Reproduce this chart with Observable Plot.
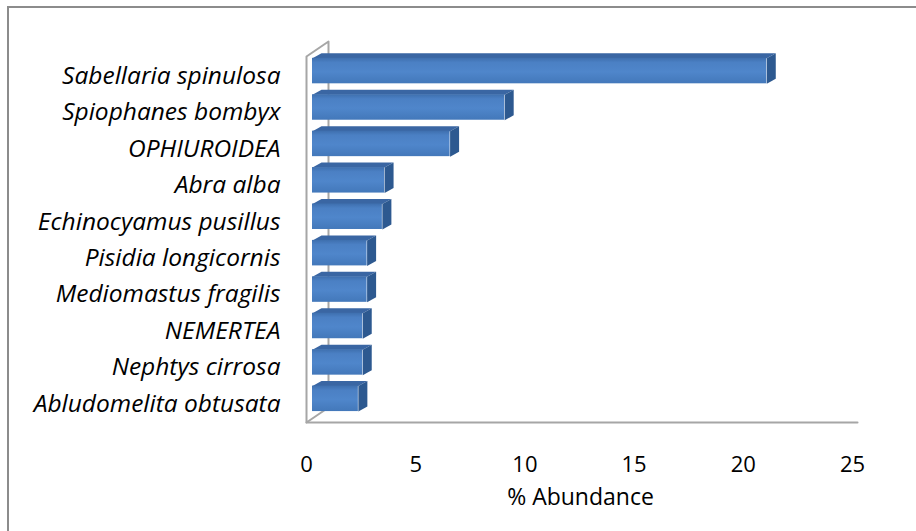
<!DOCTYPE html>
<html>
<head>
<meta charset="utf-8">
<script src="https://cdn.jsdelivr.net/npm/d3@7"></script>
<script src="https://cdn.jsdelivr.net/npm/@observablehq/plot@0.6"></script>
<style>
  body { margin: 0; background: #fff; }
  #chart { position: relative; width: 916px; height: 531px; overflow: hidden; }
  #chart svg { position: absolute; left: 0; top: 0; }
  #frame { position: absolute; left: 7px; top: 6px; right: -4px; bottom: -4px;
           border-top: 2px solid #8c8c8c; border-left: 2px solid #8c8c8c; pointer-events: none; }
</style>
</head>
<body>
<div id="chart"><div id="frame"></div></div>
<script>
// Species, top to bottom
const species = [
  "Sabellaria spinulosa",
  "Spiophanes bombyx",
  "OPHIUROIDEA",
  "Abra alba",
  "Echinocyamus pusillus",
  "Pisidia longicornis",
  "Mediomastus fragilis",
  "NEMERTEA",
  "Nephtys cirrosa",
  "Abludomelita obtusata"
];
// % abundance of each species
const abundance = [20.8, 8.8, 6.3, 3.3, 3.2, 2.5, 2.5, 2.3, 2.3, 2.1];
const xTicks = [0, 5, 10, 15, 20, 25];
const xLabel = "% Abundance";

const W = 916, H = 531;
const marginLeft = 306, marginRight = 64, marginTop = 56, marginBottom = 109;
const xMax = 25, yTop = -0.4, yBottom = 9.65;
const pxX = (W - marginLeft - marginRight) / xMax;          // px per % unit
const pxY = (H - marginTop - marginBottom) / (yBottom - yTop); // px per row

// 3-D depth of bars and walls, converted from pixels to data units
const barHalf = 0.35;
const barDX = 9 / pxX, barDY = 5 / pxY, barShift = 6;
const wallDX = 22 / pxX, wallDY = 15 / pxY;

const rows = species.map((name, i) => ({name, i, value: abundance[i]}));

const topFaces = rows.flatMap(d => [
  {id: d.i, x: 0, y: d.i - barHalf},
  {id: d.i, x: d.value, y: d.i - barHalf},
  {id: d.i, x: d.value + barDX, y: d.i - barHalf - barDY},
  {id: d.i, x: barDX, y: d.i - barHalf - barDY}
]);
const sideFaces = rows.flatMap(d => [
  {id: d.i, x: d.value, y: d.i - barHalf},
  {id: d.i, x: d.value, y: d.i + barHalf},
  {id: d.i, x: d.value + barDX, y: d.i + barHalf - barDY},
  {id: d.i, x: d.value + barDX, y: d.i - barHalf - barDY}
]);

// side wall outline and floor front edge
const wall = [
  {x: 0, y: yBottom}, {x: 0, y: yTop},
  {x: wallDX, y: yTop - wallDY}, {x: wallDX, y: yBottom - wallDY},
  {x: 0, y: yBottom}
];
const floorEdge = [{x: 0, y: yBottom}, {x: xMax + 0.23, y: yBottom}];

const font = "'Open Sans', sans-serif";
const svg = Plot.plot({
  width: W, height: H,
  marginLeft, marginRight, marginTop, marginBottom,
  style: {fontFamily: font, fontSize: "22px", color: "#000", background: "transparent", overflow: "visible"},
  x: {domain: [0, xMax], axis: null},
  y: {domain: [yTop, yBottom], reverse: true, axis: null},
  marks: [
    Plot.line(wall, {x: "x", y: "y", stroke: "#a6a6a6", strokeWidth: 2}),
    Plot.line(floorEdge, {x: "x", y: "y", stroke: "#a6a6a6", strokeWidth: 2}),
    Plot.line(topFaces, {x: "x", y: "y", z: "id", fill: "#3a66a3", stroke: "none", curve: "linear-closed", dx: barShift}),
    Plot.line(sideFaces, {x: "x", y: "y", z: "id", fill: "#2d5990", stroke: "none", curve: "linear-closed", dx: barShift}),
    Plot.rect(rows, {x1: () => 0, x2: "value", y1: d => d.i - barHalf, y2: d => d.i + barHalf, fill: "url(#barFront)", dx: barShift}),
    Plot.text(rows, {x: () => 0, y: "i", text: "name", textAnchor: "end", dx: -26, dy: 5, fontStyle: "italic", fontSize: 24.5, fill: "#000"}),
    Plot.text(xTicks, {x: d => d, frameAnchor: "bottom", text: d => String(d), dy: 49, fontSize: 22, fill: "#000"}),
    Plot.text([xLabel], {frameAnchor: "bottom", text: d => d, dx: 1, dy: 82, fontSize: 23, fill: "#000"})
  ]
});

const defs = d3.select(svg).insert("defs", ":first-child");
const grad = defs.append("linearGradient").attr("id", "barFront")
  .attr("x1", 0).attr("y1", 0).attr("x2", 0).attr("y2", 1);
[["0%", "#3e6fae"], ["18%", "#4b80c4"], ["55%", "#4f86cb"], ["100%", "#4378ba"]]
  .forEach(([o, c]) => grad.append("stop").attr("offset", o).attr("stop-color", c));

document.getElementById("chart").prepend(svg);
</script>
</body>
</html>
